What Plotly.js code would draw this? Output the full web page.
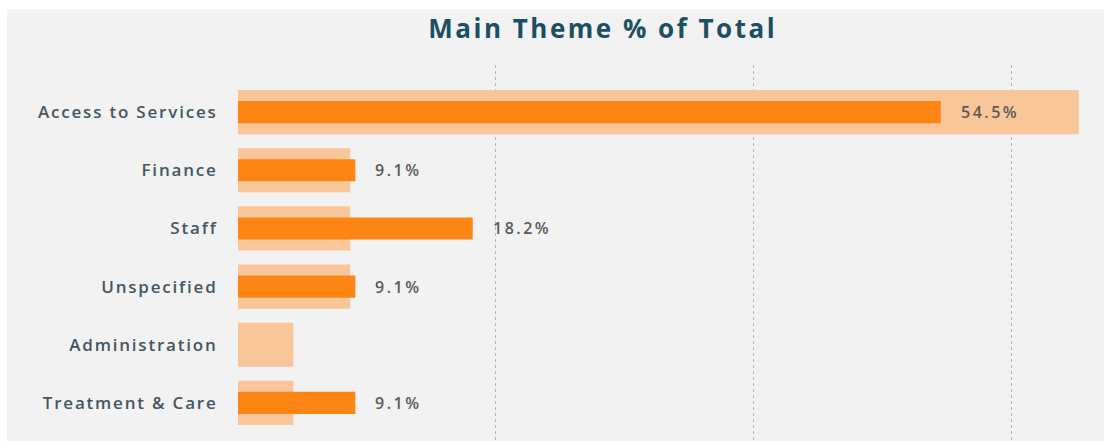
<!DOCTYPE html>
<html>
<head>
<meta charset="utf-8">
<script src="https://cdn.plot.ly/plotly-3.0.1.min.js"></script>
<style>
  html, body { margin: 0; padding: 0; background: #ffffff; width: 1104px; height: 441px; overflow: hidden; }
  #chart { position: absolute; left: 7px; top: 9px; width: 1097px; height: 432px; }
</style>
</head>
<body>
<div id="chart"></div>
<script>
// ---- data ----
const categories = ["Access to Services", "Finance", "Staff", "Unspecified", "Administration", "Treatment & Care"];
const currentPct = [54.5, 9.1, 18.2, 9.1, null, 9.1];     // dark orange bars (labelled)
const comparisonPct = [65.2, 8.7, 8.7, 8.7, 4.3, 4.3];    // light peach background bars
const gridValues = [0, 20, 40, 60];
const chartTitle = "Main Theme % of Total";

const labelColor = "#5a5a5a";
const spaced = (s, px) => '<span style="letter-spacing:' + px + 'px">' + s.replace(/&/g, "&amp;") + '</span>';

const traces = [
  {
    type: "bar", orientation: "h",
    y: categories, x: comparisonPct,
    width: 0.76,
    marker: { color: "#f8c698" },
    hoverinfo: "skip", showlegend: false
  },
  {
    type: "bar", orientation: "h",
    y: categories, x: currentPct,
    width: 0.38,
    marker: { color: "#fd8514" },
    showlegend: false
  }
];

const annotations = categories.map((c, i) => currentPct[i] == null ? null : ({
  x: currentPct[i], y: c, xref: "x", yref: "y",
  text: spaced(currentPct[i].toFixed(1) + "%", 2.5),
  showarrow: false, xanchor: "left", yanchor: "middle", xshift: 18,
  font: { family: "Open Sans, sans-serif", size: 16, color: labelColor, weight: 600 }
})).filter(a => a);

const layout = {
  width: 1097, height: 432,
  paper_bgcolor: "#f2f2f2", plot_bgcolor: "#f2f2f2",
  margin: { l: 231, r: 2, t: 56, b: 0, pad: 0 },
  barmode: "overlay",
  title: {
    text: spaced(chartTitle, 2.5),
    xref: "container", x: 0.543, xanchor: "center",
    yref: "container", y: 0.954, yanchor: "middle",
    font: { family: "Open Sans, sans-serif", size: 26, color: "#1d4f62", weight: 700 }
  },
  xaxis: {
    range: [0, 67],
    tickvals: gridValues, showticklabels: false,
    showgrid: true, gridcolor: "#b8b8b8", griddash: "dot", gridwidth: 1,
    zeroline: false, showline: false, fixedrange: true
  },
  yaxis: {
    type: "category",
    categoryorder: "array", categoryarray: categories,
    tickvals: categories,
    ticktext: categories.map(c => spaced(c, 1.8)),
    range: [5.655, -0.81],
    showgrid: false, zeroline: false, showline: false,
    ticks: "outside", ticklen: 16, tickcolor: "rgba(0,0,0,0)",
    tickfont: { family: "Open Sans, sans-serif", size: 17, color: "#455661", weight: 600 },
    fixedrange: true
  },
  annotations: annotations
};

Plotly.newPlot("chart", traces, layout, { displayModeBar: false, staticPlot: true });
</script>
</body>
</html>
